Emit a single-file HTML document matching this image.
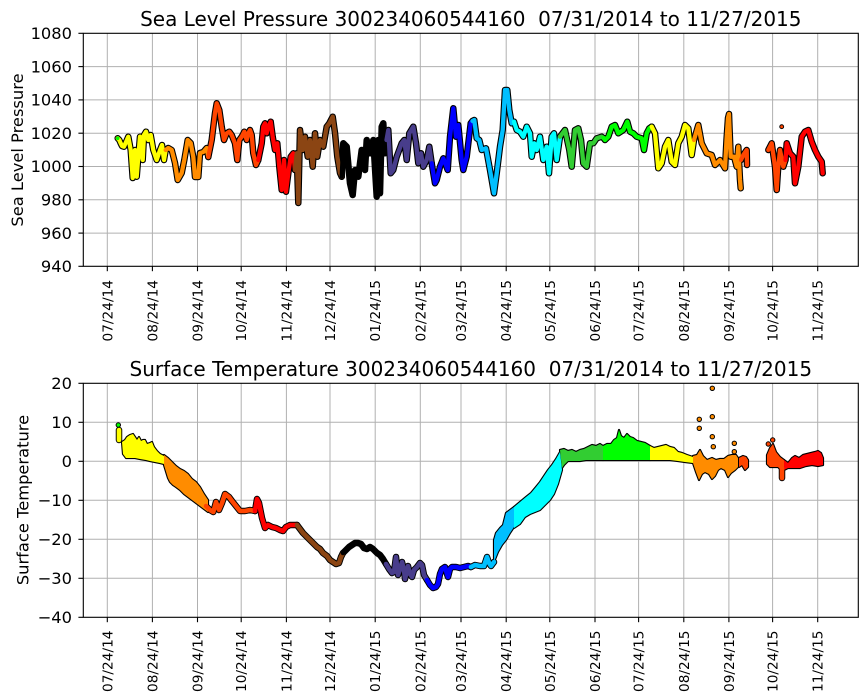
<!DOCTYPE html>
<html><head><meta charset="utf-8"><style>
html,body{margin:0;padding:0;background:#fff;}
svg{display:block;font-family:"DejaVu Sans","Liberation Sans",sans-serif;}
</style></head><body>
<svg width="867" height="700" viewBox="0 0 867 700" xmlns="http://www.w3.org/2000/svg">
<rect x="0" y="0" width="867" height="700" fill="#fff"/>

<!-- ============ TOP AXES ============ -->
<g stroke="#b0b0b0" stroke-width="1" fill="none">
 <line x1="107.3" y1="33.3" x2="107.3" y2="266.3"/><line x1="152.4" y1="33.3" x2="152.4" y2="266.3"/><line x1="197.5" y1="33.3" x2="197.5" y2="266.3"/><line x1="241.2" y1="33.3" x2="241.2" y2="266.3"/><line x1="286.4" y1="33.3" x2="286.4" y2="266.3"/><line x1="330" y1="33.3" x2="330" y2="266.3"/><line x1="375.2" y1="33.3" x2="375.2" y2="266.3"/><line x1="420.3" y1="33.3" x2="420.3" y2="266.3"/><line x1="461" y1="33.3" x2="461" y2="266.3"/><line x1="506.2" y1="33.3" x2="506.2" y2="266.3"/><line x1="549.8" y1="33.3" x2="549.8" y2="266.3"/><line x1="595" y1="33.3" x2="595" y2="266.3"/><line x1="638.6" y1="33.3" x2="638.6" y2="266.3"/><line x1="683.8" y1="33.3" x2="683.8" y2="266.3"/><line x1="728.9" y1="33.3" x2="728.9" y2="266.3"/><line x1="772.6" y1="33.3" x2="772.6" y2="266.3"/><line x1="817.7" y1="33.3" x2="817.7" y2="266.3"/>
 <line x1="83.3" y1="66.6" x2="858.3" y2="66.6"/><line x1="83.3" y1="99.9" x2="858.3" y2="99.9"/><line x1="83.3" y1="133.2" x2="858.3" y2="133.2"/><line x1="83.3" y1="166.5" x2="858.3" y2="166.5"/><line x1="83.3" y1="199.8" x2="858.3" y2="199.8"/><line x1="83.3" y1="233.1" x2="858.3" y2="233.1"/>
</g>

<!-- pressure outline -->
<g fill="none" stroke="#000" stroke-width="6.5" stroke-linejoin="round" stroke-linecap="round">
 <polyline points="117.7,138.3 119.3,140 120.7,143.3 122,146 124,146.7 128.3,136.7 130.7,150 132.7,178 135,150 136.7,176.7 138.3,156.7 140,136.7 142.7,160 144,135 146,131.7 148.3,140 150.7,135 153.3,150 156.7,160 160,150 162,145 164,160 165.7,150"/>
 <polyline points="165.7,150 168.3,148 171.7,150 175,163 177.7,180 181.7,173 184.3,160 187.7,140 190.7,143 193.3,157 195,177 198.3,177 200,153 203.3,152 206.7,148 208.3,157"/>
 <polyline points="208.3,157 211.7,140 215,113 216.7,103.3 219.3,110 221.7,126.7 224,140 226.7,133.3 229.3,131.7 231.7,135 235,143.3 237.3,160 239.3,140 241.7,136.7 244.3,131.7 246.7,140 248.3,133.3 250,130 251.7,135 253.3,153.3 256,165 258.3,160"/>
 <polyline points="258.3,160 261.7,143.3 263.3,126.7 265,123.3 266.7,133.3 268.3,126.7 270.7,121.7 272.7,136.7 275,150 277.3,143.3 279.3,166.7 281.7,190 284,160 286,191.7 288.3,173.3 290.7,156.7 293.3,153.3 295,170"/>
 <polyline points="295,170 296.7,153.3 298.3,203 300,130 302.7,150 305,136.7 307.7,156.7 310,140 312.7,166.7 315,133.3 317.3,156.7 320,140 323.3,146.7 326.7,126.7 329.3,123.3 332.7,116.7 335,133 337.3,156.7 340,173 341.7,176.7"/>
 <polyline points="341.7,176.7 343.3,143.3 346.7,146.7 350,183.3 352.7,195 355,170 358.3,176.7 361.7,150 365,170 366.7,140 370,153.3 373.3,140 376.7,196.7 378.3,140 380,193.3 381.7,126.7 383.3,123.3 385,153.3 386.5,140"/>
 <polyline points="386.5,140 388.3,130 390.7,173.3 393.3,170 396.7,156.7 401.7,143.3 404.3,140 406.7,160 409.3,133.3 413.3,126.7 416,143.3 418.3,163.3 421,153.3 423.3,166.7 426.7,160 429.3,146.7 431.7,163.3"/>
 <polyline points="431.7,163.3 435,183.3 436.7,180 440,166.7 443.3,158.3 447.7,170 450,136.7 453.3,108.3 456,136.7 458.3,125 461.7,160 463.3,170 466.7,156.7 470.7,123.3 472.5,121"/>
 <polyline points="472.5,121 474.3,120 476.7,138.3 479.3,140 481.7,150 486,148.3 490,170 494,193.3 496.7,173.3 500,146.7 502.7,130 505,90 507.3,90 509.3,110 511.7,123.3 514,121.7"/>
 <polyline points="514,121.7 516.7,130 520,131.7 523.3,136.7 526.7,126.7 530,133.3 531.7,156.7 534.3,143.3 536.7,150 540,136.7 543.3,160 546.7,146.7 549,173.3 551.7,136.7 554,133.3 556.7,160 560,136.7"/>
 <polyline points="560,136.7 565,130 569.3,150 571.7,166.7 575,130 578.3,128.3 581,140 583.3,163.3 586.7,166.7 590,143.3 593.3,143.3 596.7,138.3 601.7,136.7 603.5,138"/>
 <polyline points="603.5,138 605,140 608.3,136.7 611.7,126.7 615,125 618.3,133.3 623.3,130 627.3,121.7 630,131.7 633.3,133.3 636.7,136.7 641.7,138.3 644,150 646.7,133.3 649.3,128.3 651.7,126.7"/>
 <polyline points="651.7,126.7 655,133.3 658.3,168.3 661.7,163.3 665,146.7 668.3,140 671.7,161.7 675,165 678.3,143.3 681.7,136.7 685,125 688.3,128.3 691.7,155 694,140"/>
 <polyline points="694,140 698.3,125 701.7,143.3 706.7,153.3 711.7,155 715,165 720,160 725,168.3 726.5,140 728,118 729,114 729.5,128 730.7,156.7 734,156.7 736.7,166.7 738.3,146.7 740,180 740.7,188.3"/>
 <polyline points="741,160 743.3,155 746.7,150 747,165"/>
 <polyline points="768.3,150 771.7,143.3 775,166.7 776.7,190 778,170 780,150 783.3,166.7 785.5,160"/>
 <polyline points="785.5,160 786.7,143.3 790,153.3 793.3,156.7 795,183.3 798.3,166.7 801.7,136.7 805,131.7 808.3,130 811.7,141.7 815,150 818.3,156.7 821.7,161.7 822.7,173.3"/>
</g>
<circle cx="781.7" cy="126.7" r="2.4" fill="#000"/>
<!-- pressure color -->
<g fill="none" stroke-width="4.3" stroke-linejoin="round" stroke-linecap="round">
 <polyline stroke="#ffff00" points="117.7,138.3 119.3,140 120.7,143.3 122,146 124,146.7 128.3,136.7 130.7,150 132.7,178 135,150 136.7,176.7 138.3,156.7 140,136.7 142.7,160 144,135 146,131.7 148.3,140 150.7,135 153.3,150 156.7,160 160,150 162,145 164,160 165.7,150"/>
 <polyline stroke="#ff8c00" points="165.7,150 168.3,148 171.7,150 175,163 177.7,180 181.7,173 184.3,160 187.7,140 190.7,143 193.3,157 195,177 198.3,177 200,153 203.3,152 206.7,148 208.3,157"/>
 <polyline stroke="#ff4500" points="208.3,157 211.7,140 215,113 216.7,103.3 219.3,110 221.7,126.7 224,140 226.7,133.3 229.3,131.7 231.7,135 235,143.3 237.3,160 239.3,140 241.7,136.7 244.3,131.7 246.7,140 248.3,133.3 250,130 251.7,135 253.3,153.3 256,165 258.3,160"/>
 <polyline stroke="#ff0000" points="258.3,160 261.7,143.3 263.3,126.7 265,123.3 266.7,133.3 268.3,126.7 270.7,121.7 272.7,136.7 275,150 277.3,143.3 279.3,166.7 281.7,190 284,160 286,191.7 288.3,173.3 290.7,156.7 293.3,153.3 295,170"/>
 <polyline stroke="#8b4513" points="295,170 296.7,153.3 298.3,203 300,130 302.7,150 305,136.7 307.7,156.7 310,140 312.7,166.7 315,133.3 317.3,156.7 320,140 323.3,146.7 326.7,126.7 329.3,123.3 332.7,116.7 335,133 337.3,156.7 340,173 341.7,176.7"/>
 <polyline stroke="#000000" points="341.7,176.7 343.3,143.3 346.7,146.7 350,183.3 352.7,195 355,170 358.3,176.7 361.7,150 365,170 366.7,140 370,153.3 373.3,140 376.7,196.7 378.3,140 380,193.3 381.7,126.7 383.3,123.3 385,153.3 386.5,140"/>
 <polyline stroke="#483d8b" points="386.5,140 388.3,130 390.7,173.3 393.3,170 396.7,156.7 401.7,143.3 404.3,140 406.7,160 409.3,133.3 413.3,126.7 416,143.3 418.3,163.3 421,153.3 423.3,166.7 426.7,160 429.3,146.7 431.7,163.3"/>
 <polyline stroke="#0000ff" points="431.7,163.3 435,183.3 436.7,180 440,166.7 443.3,158.3 447.7,170 450,136.7 453.3,108.3 456,136.7 458.3,125 461.7,160 463.3,170 466.7,156.7 470.7,123.3 472.5,121"/>
 <polyline stroke="#00bfff" points="472.5,121 474.3,120 476.7,138.3 479.3,140 481.7,150 486,148.3 490,170 494,193.3 496.7,173.3 500,146.7 502.7,130 505,90 507.3,90 509.3,110 511.7,123.3 514,121.7"/>
 <polyline stroke="#00ffff" points="514,121.7 516.7,130 520,131.7 523.3,136.7 526.7,126.7 530,133.3 531.7,156.7 534.3,143.3 536.7,150 540,136.7 543.3,160 546.7,146.7 549,173.3 551.7,136.7 554,133.3 556.7,160 560,136.7"/>
 <polyline stroke="#32cd32" points="560,136.7 565,130 569.3,150 571.7,166.7 575,130 578.3,128.3 581,140 583.3,163.3 586.7,166.7 590,143.3 593.3,143.3 596.7,138.3 601.7,136.7 603.5,138"/>
 <polyline stroke="#00ff00" points="603.5,138 605,140 608.3,136.7 611.7,126.7 615,125 618.3,133.3 623.3,130 627.3,121.7 630,131.7 633.3,133.3 636.7,136.7 641.7,138.3 644,150 646.7,133.3 649.3,128.3 651.7,126.7"/>
 <polyline stroke="#ffff00" points="651.7,126.7 655,133.3 658.3,168.3 661.7,163.3 665,146.7 668.3,140 671.7,161.7 675,165 678.3,143.3 681.7,136.7 685,125 688.3,128.3 691.7,155 694,140"/>
 <polyline stroke="#ff8c00" points="694,140 698.3,125 701.7,143.3 706.7,153.3 711.7,155 715,165 720,160 725,168.3 726.5,140 728,118 729,114 729.5,128 730.7,156.7 734,156.7 736.7,166.7 738.3,146.7 740,180 740.7,188.3"/>
 <polyline stroke="#ff4500" points="741,160 743.3,155 746.7,150 747,165"/>
 <polyline stroke="#ff4500" points="768.3,150 771.7,143.3 775,166.7 776.7,190 778,170 780,150 783.3,166.7 785.5,160"/>
 <polyline stroke="#ff0000" points="785.5,160 786.7,143.3 790,153.3 793.3,156.7 795,183.3 798.3,166.7 801.7,136.7 805,131.7 808.3,130 811.7,141.7 815,150 818.3,156.7 821.7,161.7 822.7,173.3"/>
</g>
<circle cx="781.7" cy="126.7" r="1.5" fill="#ff4500"/>
<circle cx="117.7" cy="138.3" r="1.8" fill="#00ff00"/>

<!-- top frame & ticks -->
<rect x="83.3" y="33.3" width="775" height="233" fill="none" stroke="#000" stroke-width="1.1"/>
<g stroke="#000" stroke-width="1.1">
 <line x1="78.4" y1="33.3" x2="83.3" y2="33.3"/><line x1="78.4" y1="66.6" x2="83.3" y2="66.6"/><line x1="78.4" y1="99.9" x2="83.3" y2="99.9"/><line x1="78.4" y1="133.2" x2="83.3" y2="133.2"/><line x1="78.4" y1="166.5" x2="83.3" y2="166.5"/><line x1="78.4" y1="199.8" x2="83.3" y2="199.8"/><line x1="78.4" y1="233.1" x2="83.3" y2="233.1"/><line x1="78.4" y1="266.3" x2="83.3" y2="266.3"/>
 <line x1="107.3" y1="266.3" x2="107.3" y2="271.2"/><line x1="152.4" y1="266.3" x2="152.4" y2="271.2"/><line x1="197.5" y1="266.3" x2="197.5" y2="271.2"/><line x1="241.2" y1="266.3" x2="241.2" y2="271.2"/><line x1="286.4" y1="266.3" x2="286.4" y2="271.2"/><line x1="330" y1="266.3" x2="330" y2="271.2"/><line x1="375.2" y1="266.3" x2="375.2" y2="271.2"/><line x1="420.3" y1="266.3" x2="420.3" y2="271.2"/><line x1="461" y1="266.3" x2="461" y2="271.2"/><line x1="506.2" y1="266.3" x2="506.2" y2="271.2"/><line x1="549.8" y1="266.3" x2="549.8" y2="271.2"/><line x1="595" y1="266.3" x2="595" y2="271.2"/><line x1="638.6" y1="266.3" x2="638.6" y2="271.2"/><line x1="683.8" y1="266.3" x2="683.8" y2="271.2"/><line x1="728.9" y1="266.3" x2="728.9" y2="271.2"/><line x1="772.6" y1="266.3" x2="772.6" y2="271.2"/><line x1="817.7" y1="266.3" x2="817.7" y2="271.2"/>
</g>
<g font-size="16.3" fill="#000" text-anchor="end">
 <text x="72" y="39">1080</text><text x="72" y="72.3">1060</text><text x="72" y="105.6">1040</text><text x="72" y="138.9">1020</text><text x="72" y="172.2">1000</text><text x="72" y="205.5">980</text><text x="72" y="238.8">960</text><text x="72" y="272">940</text>
</g>
<g font-size="13.7" fill="#000" text-anchor="end">
 <text transform="translate(112.3,280) rotate(-90)">07/24/14</text>
 <text transform="translate(157.4,280) rotate(-90)">08/24/14</text>
 <text transform="translate(202.5,280) rotate(-90)">09/24/14</text>
 <text transform="translate(246.2,280) rotate(-90)">10/24/14</text>
 <text transform="translate(291.4,280) rotate(-90)">11/24/14</text>
 <text transform="translate(335,280) rotate(-90)">12/24/14</text>
 <text transform="translate(380.2,280) rotate(-90)">01/24/15</text>
 <text transform="translate(425.3,280) rotate(-90)">02/24/15</text>
 <text transform="translate(466,280) rotate(-90)">03/24/15</text>
 <text transform="translate(511.2,280) rotate(-90)">04/24/15</text>
 <text transform="translate(554.8,280) rotate(-90)">05/24/15</text>
 <text transform="translate(600,280) rotate(-90)">06/24/15</text>
 <text transform="translate(643.6,280) rotate(-90)">07/24/15</text>
 <text transform="translate(688.8,280) rotate(-90)">08/24/15</text>
 <text transform="translate(733.9,280) rotate(-90)">09/24/15</text>
 <text transform="translate(777.6,280) rotate(-90)">10/24/15</text>
 <text transform="translate(822.7,280) rotate(-90)">11/24/15</text>
</g>
<text transform="translate(23,150) rotate(-90)" text-anchor="middle" font-size="16.3">Sea Level Pressure</text>
<text x="470.8" y="26" text-anchor="middle" font-size="20" style="white-space:pre">Sea Level Pressure 300234060544160  07/31/2014 to 11/27/2015</text>

<!-- ============ BOTTOM AXES ============ -->
<g stroke="#b0b0b0" stroke-width="1" fill="none">
 <line x1="107.3" y1="383.3" x2="107.3" y2="617.3"/><line x1="152.4" y1="383.3" x2="152.4" y2="617.3"/><line x1="197.5" y1="383.3" x2="197.5" y2="617.3"/><line x1="241.2" y1="383.3" x2="241.2" y2="617.3"/><line x1="286.4" y1="383.3" x2="286.4" y2="617.3"/><line x1="330" y1="383.3" x2="330" y2="617.3"/><line x1="375.2" y1="383.3" x2="375.2" y2="617.3"/><line x1="420.3" y1="383.3" x2="420.3" y2="617.3"/><line x1="461" y1="383.3" x2="461" y2="617.3"/><line x1="506.2" y1="383.3" x2="506.2" y2="617.3"/><line x1="549.8" y1="383.3" x2="549.8" y2="617.3"/><line x1="595" y1="383.3" x2="595" y2="617.3"/><line x1="638.6" y1="383.3" x2="638.6" y2="617.3"/><line x1="683.8" y1="383.3" x2="683.8" y2="617.3"/><line x1="728.9" y1="383.3" x2="728.9" y2="617.3"/><line x1="772.6" y1="383.3" x2="772.6" y2="617.3"/><line x1="817.7" y1="383.3" x2="817.7" y2="617.3"/>
 <line x1="83.3" y1="422.3" x2="858.3" y2="422.3"/><line x1="83.3" y1="461.3" x2="858.3" y2="461.3"/><line x1="83.3" y1="500.3" x2="858.3" y2="500.3"/><line x1="83.3" y1="539.3" x2="858.3" y2="539.3"/><line x1="83.3" y1="578.3" x2="858.3" y2="578.3"/>
</g>

<!-- temperature outline -->
<g stroke="#000" stroke-linejoin="round" stroke-linecap="round">
 <g fill="#000" stroke-width="2.2">
  <polygon points="122,442 125,440 127,437 130,435 133,434 135,437 137,440 139,437 141,441 143,440 145,440 147,444 150,443 152,442 154,447 157,451 160,454 164,456 164,464 160,463 155,462 150,461 146,460 140,459 135,458 130,458 126,458 123,454"/>
  <polygon points="164,455 168,458 170,460 174,464 176,466 180,469 184,471 188,474 192,479 196,482 200,487 204,494 208,500 208,512 204,509 200,506 196,503 192,500 188,497 184,494 180,490 176,487 173,485 170,482 168,478 164,465"/>
  <polygon points="494,540 496,533 500,528 503,525 506,513 510,510 514,507 514,527 510,533 506,540 502,545 498,552 494,562"/>
  <polygon points="514,507 520,502 526,497 531,493 536,487 540,482 544,476 548,470 552,465 556,459 560,452 562,470 558,484 554,494 550,500 545,505 540,510 535,512 530,514 525,517 520,524 514,528"/>
  <polygon points="560,450 564,449 568,451 572,450 576,452 580,450 584,449 588,447 592,445 596,446 600,444 603,446 603,460 598,460 592,460 586,460 580,461 574,461 568,461 564,465 562,468"/>
  <polygon points="603,446 607,444 611,444 614,440 617,438 619,430 621,436 624,438 627,434 630,437 633,438 637,441 641,442 645,443 650,446 650,460 640,460 630,460 620,460 610,460 603,460"/>
  <polygon points="650,446 654,448 658,447 662,446 666,445 670,447 674,448 678,452 682,453 687,455 693,457 693,463 685,462 678,461 670,460 660,460 650,460"/>
  <polygon points="693,456 697,455 700,450 703,456 707,460 712,458 716,460 720,459 724,459 728,456 732,455 736,455 738,458 738,467 735,470 731,473 728,477 725,470 721,468 718,470 715,476 712,479 709,474 705,472 702,474 699,480 696,472 693,463"/>
  <polygon points="739,458 743,456 746,457 748,460 748,467 745,470 742,465 739,467"/>
  <polygon points="767,455 770,448 773,444 776,452 780,457 784,460 784,470 781,470 778,467 774,467 770,467 767,464"/>
  <polygon points="784,460 788,463 792,458 795,456 799,458 803,455 807,454 811,453 815,452 818,451 821,453 823,458 823,465 818,466 812,465 806,466 800,468 794,468 788,468 784,470"/>
 </g>
 <g fill="none" stroke-width="6.5">
  <polyline points="206,506 210,510 213.3,512 216,502 219,510 222,503 225,494 229,497 232,501 236,506 240,511 245,511 250,510 255,511"/>
  <polyline points="255,511 257,499 259,503 262,518 265,528 268,525 272,527 276,528 280,530 283,531 286,527 290,525 294,525 297,525"/>
  <polyline points="297,525 300,529 303,533 307,537 310,540 313,543 317,547 320,549 323,553 327,556 330,560 333,562 336,564 339,563 341,557 343,553"/>
  <polyline points="343,553 346,550 349,547 352,545 355,543 358,543 361,544 364,548 367,549 370,547 373,549 377,553 380,555 383,559 386,564"/>
  <polyline points="386,564 389,569 392,573 394,572 396,557 398,575 400,569 402,562 404,570 405,579 408,566 410,574 412,577 414,570 417,567 420,563 422,565 424,575 427,580"/>
  <polyline points="427,580 430,585 433,588 436,587 438,584 440,574 442,569 445,567 447,574 448,577 450,569 452,567 456,567 460,568 464,567 468,566 471,567"/>
  <polyline points="471,567 475,565 480,566 484,566 487,557 489,563 491,566 494,562"/>
  <polyline points="119,430 119,440"/>
  <polyline points="782,468 782,478"/>
 </g>
 <g fill="#000" stroke-width="1">
  <circle cx="699.3" cy="419.3" r="2.2"/><circle cx="699.3" cy="428.3" r="2.2"/><circle cx="712.3" cy="388.3" r="2.2"/><circle cx="712.3" cy="416.7" r="2.2"/><circle cx="712.3" cy="436.7" r="2.2"/><circle cx="713.3" cy="446.7" r="2.2"/><circle cx="734.3" cy="443.3" r="2.2"/><circle cx="734.3" cy="451.7" r="2.2"/><circle cx="768.3" cy="444" r="2.2"/><circle cx="772.7" cy="440" r="2.2"/><circle cx="118.3" cy="425" r="2.2"/>
 </g>
</g>
<!-- temperature color -->
<g stroke="none">
  <polygon fill="#ffff00" points="122,442 125,440 127,437 130,435 133,434 135,437 137,440 139,437 141,441 143,440 145,440 147,444 150,443 152,442 154,447 157,451 160,454 164,456 164,464 160,463 155,462 150,461 146,460 140,459 135,458 130,458 126,458 123,454"/>
  <polygon fill="#ff8c00" points="164,455 168,458 170,460 174,464 176,466 180,469 184,471 188,474 192,479 196,482 200,487 204,494 208,500 208,512 204,509 200,506 196,503 192,500 188,497 184,494 180,490 176,487 173,485 170,482 168,478 164,465"/>
  <polygon fill="#00bfff" points="494,540 496,533 500,528 503,525 506,513 510,510 514,507 514,527 510,533 506,540 502,545 498,552 494,562"/>
  <polygon fill="#00ffff" points="514,507 520,502 526,497 531,493 536,487 540,482 544,476 548,470 552,465 556,459 560,452 562,470 558,484 554,494 550,500 545,505 540,510 535,512 530,514 525,517 520,524 514,528"/>
  <polygon fill="#32cd32" points="560,450 564,449 568,451 572,450 576,452 580,450 584,449 588,447 592,445 596,446 600,444 603,446 603,460 598,460 592,460 586,460 580,461 574,461 568,461 564,465 562,468"/>
  <polygon fill="#00ff00" points="603,446 607,444 611,444 614,440 617,438 619,430 621,436 624,438 627,434 630,437 633,438 637,441 641,442 645,443 650,446 650,460 640,460 630,460 620,460 610,460 603,460"/>
  <polygon fill="#ffff00" points="650,446 654,448 658,447 662,446 666,445 670,447 674,448 678,452 682,453 687,455 693,457 693,463 685,462 678,461 670,460 660,460 650,460"/>
  <polygon fill="#ff8c00" points="693,456 697,455 700,450 703,456 707,460 712,458 716,460 720,459 724,459 728,456 732,455 736,455 738,458 738,467 735,470 731,473 728,477 725,470 721,468 718,470 715,476 712,479 709,474 705,472 702,474 699,480 696,472 693,463"/>
  <polygon fill="#ff4500" points="739,458 743,456 746,457 748,460 748,467 745,470 742,465 739,467"/>
  <polygon fill="#ff4500" points="767,455 770,448 773,444 776,452 780,457 784,460 784,470 781,470 778,467 774,467 770,467 767,464"/>
  <polygon fill="#ff0000" points="784,460 788,463 792,458 795,456 799,458 803,455 807,454 811,453 815,452 818,451 821,453 823,458 823,465 818,466 812,465 806,466 800,468 794,468 788,468 784,470"/>
</g>
<g fill="none" stroke-width="4.6" stroke-linejoin="round" stroke-linecap="round">
  <polyline stroke="#ff4500" points="206,506 210,510 213.3,512 216,502 219,510 222,503 225,494 229,497 232,501 236,506 240,511 245,511 250,510 255,511"/>
  <polyline stroke="#ff0000" points="255,511 257,499 259,503 262,518 265,528 268,525 272,527 276,528 280,530 283,531 286,527 290,525 294,525 297,525"/>
  <polyline stroke="#8b4513" points="297,525 300,529 303,533 307,537 310,540 313,543 317,547 320,549 323,553 327,556 330,560 333,562 336,564 339,563 341,557 343,553"/>
  <polyline stroke="#000000" points="343,553 346,550 349,547 352,545 355,543 358,543 361,544 364,548 367,549 370,547 373,549 377,553 380,555 383,559 386,564"/>
  <polyline stroke="#483d8b" points="386,564 389,569 392,573 394,572 396,557 398,575 400,569 402,562 404,570 405,579 408,566 410,574 412,577 414,570 417,567 420,563 422,565 424,575 427,580"/>
  <polyline stroke="#0000ff" points="427,580 430,585 433,588 436,587 438,584 440,574 442,569 445,567 447,574 448,577 450,569 452,567 456,567 460,568 464,567 468,566 471,567"/>
  <polyline stroke="#00bfff" points="471,567 475,565 480,566 484,566 487,557 489,563 491,566 494,562"/>
  <polyline stroke="#ffff00" points="119,430 119,440"/>
  <polyline stroke="#ff4500" points="782,468 782,478"/>
</g>
<g fill="#ff8c00">
  <circle cx="699.3" cy="419.3" r="1.7"/><circle cx="699.3" cy="428.3" r="1.7"/><circle cx="712.3" cy="388.3" r="1.7"/><circle cx="712.3" cy="416.7" r="1.7"/><circle cx="712.3" cy="436.7" r="1.7"/><circle cx="713.3" cy="446.7" r="1.7"/><circle cx="734.3" cy="443.3" r="1.7"/><circle cx="734.3" cy="451.7" r="1.7"/>
  <circle cx="768.3" cy="444" r="1.7" fill="#ff4500"/><circle cx="772.7" cy="440" r="1.7" fill="#ff4500"/>
  <circle cx="118.3" cy="425" r="1.7" fill="#00ff00"/>
</g>

<!-- bottom frame & ticks -->
<rect x="83.3" y="383.3" width="775" height="234" fill="none" stroke="#000" stroke-width="1.1"/>
<g stroke="#000" stroke-width="1.1">
 <line x1="78.4" y1="383.3" x2="83.3" y2="383.3"/><line x1="78.4" y1="422.3" x2="83.3" y2="422.3"/><line x1="78.4" y1="461.3" x2="83.3" y2="461.3"/><line x1="78.4" y1="500.3" x2="83.3" y2="500.3"/><line x1="78.4" y1="539.3" x2="83.3" y2="539.3"/><line x1="78.4" y1="578.3" x2="83.3" y2="578.3"/><line x1="78.4" y1="617.3" x2="83.3" y2="617.3"/>
 <line x1="107.3" y1="617.3" x2="107.3" y2="622.2"/><line x1="152.4" y1="617.3" x2="152.4" y2="622.2"/><line x1="197.5" y1="617.3" x2="197.5" y2="622.2"/><line x1="241.2" y1="617.3" x2="241.2" y2="622.2"/><line x1="286.4" y1="617.3" x2="286.4" y2="622.2"/><line x1="330" y1="617.3" x2="330" y2="622.2"/><line x1="375.2" y1="617.3" x2="375.2" y2="622.2"/><line x1="420.3" y1="617.3" x2="420.3" y2="622.2"/><line x1="461" y1="617.3" x2="461" y2="622.2"/><line x1="506.2" y1="617.3" x2="506.2" y2="622.2"/><line x1="549.8" y1="617.3" x2="549.8" y2="622.2"/><line x1="595" y1="617.3" x2="595" y2="622.2"/><line x1="638.6" y1="617.3" x2="638.6" y2="622.2"/><line x1="683.8" y1="617.3" x2="683.8" y2="622.2"/><line x1="728.9" y1="617.3" x2="728.9" y2="622.2"/><line x1="772.6" y1="617.3" x2="772.6" y2="622.2"/><line x1="817.7" y1="617.3" x2="817.7" y2="622.2"/>
</g>
<g font-size="16.3" fill="#000" text-anchor="end">
 <text x="72" y="389">20</text><text x="72" y="428">10</text><text x="72" y="467">0</text><text x="72" y="506">−10</text><text x="72" y="545">−20</text><text x="72" y="584">−30</text><text x="72" y="623">−40</text>
</g>
<g font-size="13.7" fill="#000" text-anchor="end">
 <text transform="translate(112.3,630.5) rotate(-90)">07/24/14</text>
 <text transform="translate(157.4,630.5) rotate(-90)">08/24/14</text>
 <text transform="translate(202.5,630.5) rotate(-90)">09/24/14</text>
 <text transform="translate(246.2,630.5) rotate(-90)">10/24/14</text>
 <text transform="translate(291.4,630.5) rotate(-90)">11/24/14</text>
 <text transform="translate(335,630.5) rotate(-90)">12/24/14</text>
 <text transform="translate(380.2,630.5) rotate(-90)">01/24/15</text>
 <text transform="translate(425.3,630.5) rotate(-90)">02/24/15</text>
 <text transform="translate(466,630.5) rotate(-90)">03/24/15</text>
 <text transform="translate(511.2,630.5) rotate(-90)">04/24/15</text>
 <text transform="translate(554.8,630.5) rotate(-90)">05/24/15</text>
 <text transform="translate(600,630.5) rotate(-90)">06/24/15</text>
 <text transform="translate(643.6,630.5) rotate(-90)">07/24/15</text>
 <text transform="translate(688.8,630.5) rotate(-90)">08/24/15</text>
 <text transform="translate(733.9,630.5) rotate(-90)">09/24/15</text>
 <text transform="translate(777.6,630.5) rotate(-90)">10/24/15</text>
 <text transform="translate(822.7,630.5) rotate(-90)">11/24/15</text>
</g>
<text transform="translate(28.5,500) rotate(-90)" text-anchor="middle" font-size="16.3">Surface Temperature</text>
<text x="470.8" y="376" text-anchor="middle" font-size="20" style="white-space:pre">Surface Temperature 300234060544160  07/31/2014 to 11/27/2015</text>
</svg>
</body></html>
